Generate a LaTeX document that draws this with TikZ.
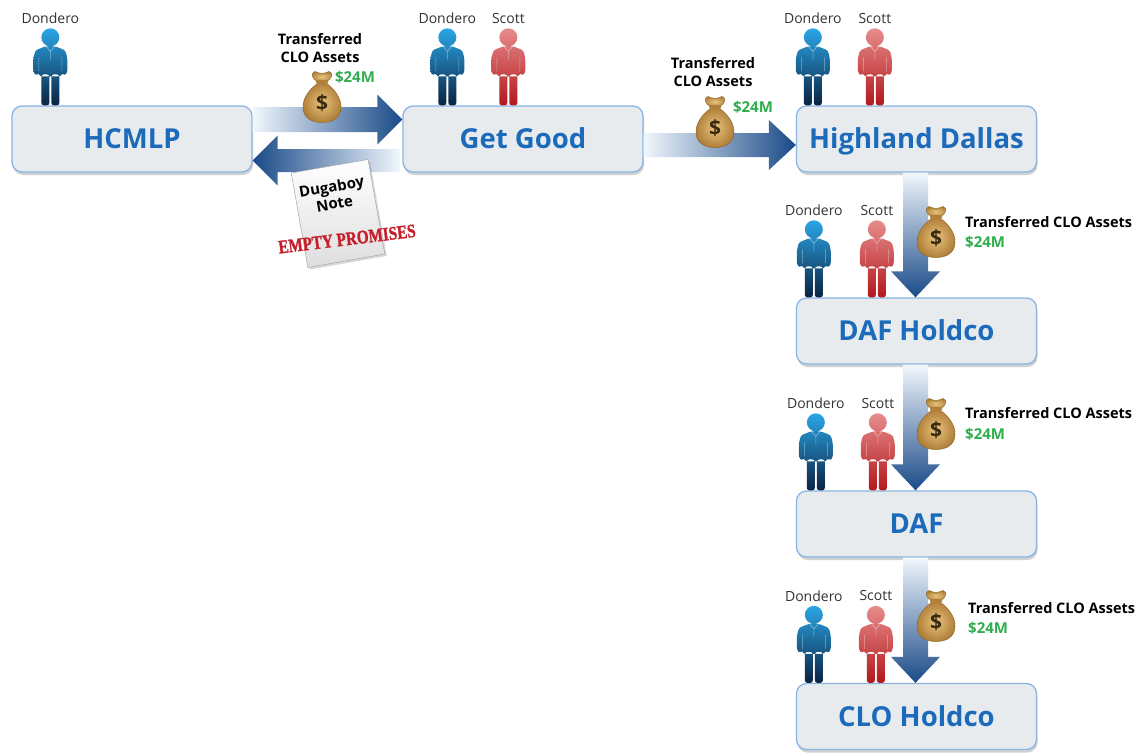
\documentclass[tikz,border=0pt]{standalone}
\usepackage{fontspec}
\setmainfont{Open Sans}
\newfontfamily\stampfont{Liberation Serif}[BoldFeatures={FakeBold=1.6}]
\usetikzlibrary{calc,shadows}
\definecolor{boxfill}{HTML}{E8EBEE}
\definecolor{boxline}{HTML}{8AB4E3}
\definecolor{boxtext}{HTML}{1B6BBA}
\definecolor{arrdark}{HTML}{1A4A88}
\definecolor{arrmid}{HTML}{74AADF}
\definecolor{arrlight}{HTML}{F1F7FD}
\definecolor{moneygreen}{HTML}{2EAE4C}
\definecolor{stampred}{HTML}{C61F2B}
\definecolor{blueTop}{HTML}{2BA6E6}
\definecolor{blueMid}{HTML}{1C6EAD}
\definecolor{blueBot}{HTML}{0B2342}
\definecolor{redTop}{HTML}{E68C8C}
\definecolor{redMid}{HTML}{D34B4B}
\definecolor{redBot}{HTML}{B3181C}
\definecolor{bagLight}{HTML}{E9C47E}
\definecolor{bagDark}{HTML}{B0803A}
\definecolor{bagLine}{HTML}{94692A}
\definecolor{dollarcol}{HTML}{3A2A12}
\tikzset{
  box/.style={draw=boxline, line width=1.3pt, fill=boxfill, rounded corners=10pt,
    minimum width=240pt, minimum height=66pt, inner sep=0pt,
    text height=19.5pt, text depth=0pt,
    font=\bfseries\fontsize{27.5}{30}\selectfont, text=boxtext,
    drop shadow={opacity=0.35, shadow xshift=1pt, shadow yshift=-3pt}},
  pname/.style={font=\fontsize{14}{16}\selectfont, text=black!80, inner sep=0pt},
  xfer/.style={font=\bfseries\fontsize{14.5}{18}\selectfont, inner sep=0pt, align=center},
  amt/.style={font=\bfseries\fontsize{15}{18}\selectfont, text=moneygreen, inner sep=0pt},
  rshade/.style={left color=arrlight, middle color=arrmid, right color=arrdark},
  lshade/.style={left color=arrdark, middle color=arrmid, right color=arrlight},
  dshade/.style={top color=arrlight, middle color=arrmid, bottom color=arrdark},
}
% #1 start, #2 target, #3 shaft half, #4 head half, #5 head length, #6 shading
\newcommand\ArrowRight[6]{\shade[#6] let \p1=(#1), \p2=(#2) in
  (\x1,\y1+#3) -- (\x2-#5,\y1+#3) -- (\x2-#5,\y1+#4) -- (\x2,\y1)
  -- (\x2-#5,\y1-#4) -- (\x2-#5,\y1-#3) -- (\x1,\y1-#3) -- cycle;}
\newcommand\ArrowLeft[6]{\shade[#6] let \p1=(#1), \p2=(#2) in
  (\x1,\y1+#3) -- (\x2+#5,\y1+#3) -- (\x2+#5,\y1+#4) -- (\x2,\y1)
  -- (\x2+#5,\y1-#4) -- (\x2+#5,\y1-#3) -- (\x1,\y1-#3) -- cycle;}
\newcommand\ArrowDown[6]{\shade[#6] let \p1=(#1), \p2=(#2) in
  (\x1-#3,\y1) -- (\x1-#3,\y2+#5) -- (\x1-#4,\y2+#5) -- (\x1,\y2)
  -- (\x1+#4,\y2+#5) -- (\x1+#3,\y2+#5) -- (\x1+#3,\y1) -- cycle;}
% person: #1 node name, #2 feet position, #3 colour prefix, #4 label
\newcommand\DrawPerson[4]{%
\begin{scope}[shift={(#2)}]
\shade[top color=#3Top, middle color=#3Mid, bottom color=#3Bot, rounded corners=2.5pt]
  (0,-68) circle (9pt)
  (-5,-59) -- (5,-59) -- (15,-55) -- (17,-47) -- (17,-33) -- (14,-29.5) -- (11.5,-33)
  -- (11,-29) -- (-11,-29) -- (-11.5,-33) -- (-14,-29.5) -- (-17,-33) -- (-17,-47) -- (-15,-55) -- cycle
  (-9,-31) rectangle (-1,0)
  (1,-31) rectangle (9,0);
\draw[white, opacity=.45, line width=.6pt] (-4,-58.5) -- (0,-54) -- (4,-58.5)
  (0,-54) -- (0,-46) (-11.5,-48) -- (-11.5,-34) (11.5,-48) -- (11.5,-34);
\node[pname] (#1) at (0,-87) {#4};
\end{scope}}
% money bag: #1 node name, #2 centre
\newcommand\DrawBag[2]{%
\begin{scope}[shift={(#2)}]
\shadedraw[inner color=bagLight, outer color=bagDark, draw=bagLine, line width=.5pt]
  (-4,-14) .. controls (-12,-8) and (-19,0) .. (-19,10)
  .. controls (-19,22) and (-9,25.5) .. (0,25.5)
  .. controls (9,25.5) and (19,22) .. (19,10)
  .. controls (19,0) and (12,-8) .. (4,-14) -- cycle;
\shadedraw[inner color=bagLight, outer color=bagDark, draw=bagLine, line width=.5pt]
  (-4,-15) .. controls (-10,-18) and (-12,-24) .. (-7,-25.5)
  .. controls (-2,-23) and (2,-23) .. (7,-25.5)
  .. controls (12,-24) and (10,-18) .. (4,-15) -- cycle;
\fill[bagDark, rounded corners=1.5pt] (-6,-17) rectangle (6,-13);
\node[font=\bfseries\fontsize{21}{21}\selectfont, text=dollarcol, inner sep=0pt] (#1) at (0,6) {\$};
\end{scope}}
\begin{document}
\begin{tikzpicture}[x=1pt, y=-1pt]
\useasboundingbox (0,0) rectangle (1135,753);
\fill[white] (0,0) rectangle (1135,753);
% boxes
\node[box] (hcmlp) at (132,139) {HCMLP};
\node[box] (getgood) at (523,139) {Get Good};
\node[box] (hd) at (916.5,139) {Highland Dallas};
\node[box] (dafh) at (916.5,331) {DAF Holdco};
\node[box] (daf) at (916.5,524) {DAF};
\node[box] (cloh) at (916.5,716.5) {CLO Holdco};
% people
\DrawPerson{p1}{$(hcmlp.north west)+(39,0)$}{blue}{Dondero}
\DrawPerson{p2}{$(getgood.north west)+(45,0)$}{blue}{Dondero}
\DrawPerson{p3}{$(getgood.north west)+(106,0)$}{red}{Scott}
\DrawPerson{p4}{$(hd.north west)+(17,0)$}{blue}{Dondero}
\DrawPerson{p5}{$(hd.north west)+(79,0)$}{red}{Scott}
\DrawPerson{p6}{$(dafh.north west)+(18,0)$}{blue}{Dondero}
\DrawPerson{p7}{$(dafh.north west)+(81,0)$}{red}{Scott}
\DrawPerson{p8}{$(daf.north west)+(20,0)$}{blue}{Dondero}
\DrawPerson{p9}{$(daf.north west)+(82,0)$}{red}{Scott}
\DrawPerson{p10}{$(cloh.north west)+(18,0)$}{blue}{Dondero}
\DrawPerson{p11}{$(cloh.north west)+(80,0)$}{red}{Scott}
% arrows
\ArrowRight{$(hcmlp.east)+(0,-19.5)$}{getgood.west}{12.5pt}{25pt}{25pt}{rshade}
\ArrowLeft{$(getgood.west)+(-2,21.5)$}{hcmlp.east}{11.5pt}{25pt}{25pt}{lshade}
\ArrowRight{$(getgood.east)+(0,6)$}{hd.west}{12pt}{25pt}{27pt}{rshade}
\ArrowDown{$(hd.south)+(-1,0)$}{dafh.north}{12.5pt}{24.5pt}{26pt}{dshade}
\ArrowDown{$(dafh.south)+(-1,0)$}{daf.north}{12.5pt}{24.5pt}{26pt}{dshade}
\ArrowDown{$(daf.south)+(-1,0)$}{cloh.north}{12.5pt}{24.5pt}{26pt}{dshade}
% Dugaboy note
\node[rotate=10, minimum width=78pt, minimum height=96pt, draw=black!35, line width=.5pt,
  top color=white, bottom color=black!13,
  drop shadow={opacity=0.3, shadow xshift=2pt, shadow yshift=-2pt}] (paper) at (338,213.5) {};
\node[rotate=10, font=\bfseries\fontsize{15}{17}\selectfont, align=center, inner sep=0pt] (dnote) at (333,195) {Dugaboy\\Note};
\node[rotate=7, text=stampred, inner sep=0pt] (stamp) at (347,239)
  {\scalebox{0.8}[1]{\stampfont\bfseries\fontsize{19}{19}\selectfont EMPTY PROMISES}};
% transfer labels and bags
\node[xfer] (t1) at (320,48) {Transferred\\CLO Assets};
\DrawBag{b1}{322,97}
\node[amt] (a1) at (355,77) {\$24M};
\node[xfer] (t2) at (713,72.5) {Transferred\\CLO Assets};
\DrawBag{b2}{715,122}
\node[amt] (a2) at (753,107) {\$24M};
\DrawBag{b3}{936,232}
\node[xfer, anchor=west] (t3) at (965,222) {Transferred CLO Assets};
\node[amt, anchor=west] (a3) at (965,242) {\$24M};
\DrawBag{b4}{936,424}
\node[xfer, anchor=west] (t4) at (965,413) {Transferred CLO Assets};
\node[amt, anchor=west] (a4) at (965,434) {\$24M};
\DrawBag{b5}{936,616}
\node[xfer, anchor=west] (t5) at (968,608) {Transferred CLO Assets};
\node[amt, anchor=west] (a5) at (968,628) {\$24M};
\end{tikzpicture}
\end{document}
